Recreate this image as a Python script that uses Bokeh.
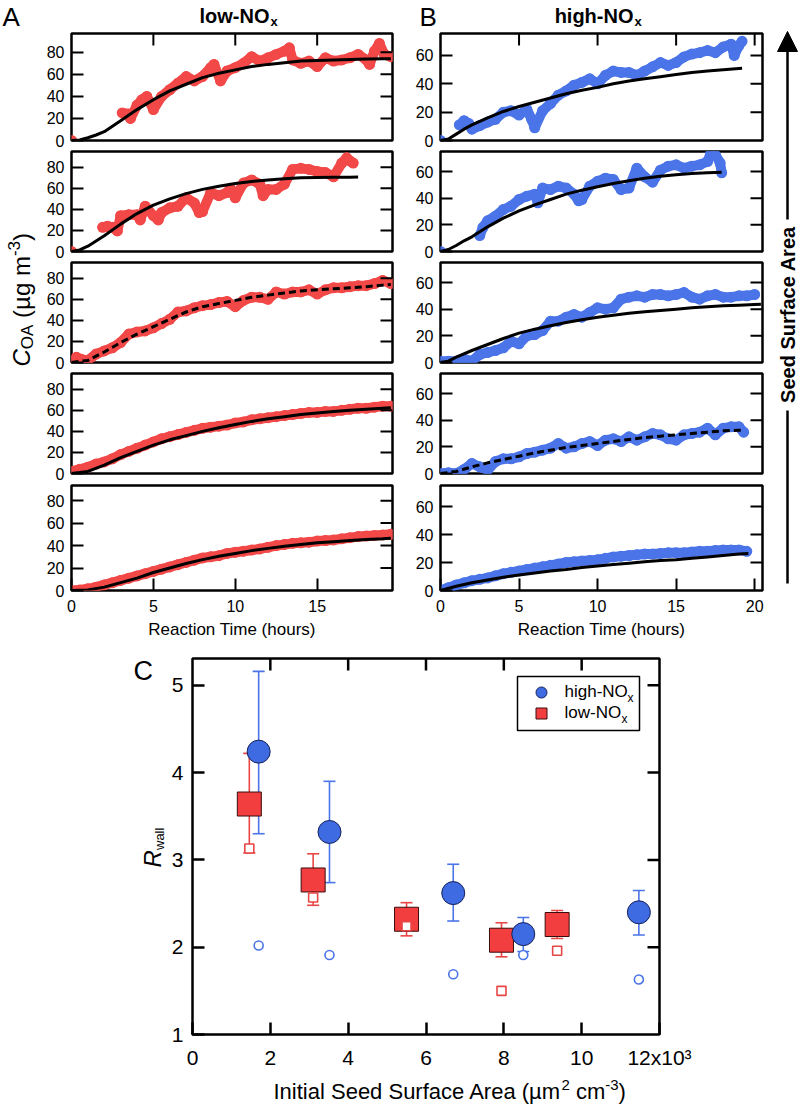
import math
from bokeh.plotting import figure
from bokeh.models import (Range1d, LinearAxis, FixedTicker, Label, Whisker, TeeHead,
                          ColumnDataSource, Arrow, NormalHead)
from bokeh.layouts import row, column
from bokeh.embed import file_html
from bokeh.resources import INLINE

FONT = "Liberation Sans"
RED = "#F24848"
BLUE = "#4A74E8"

# ---------------- Panel A (low-NOx): reaction time (h), C_OA (ug m-3) ----------------
a1_t = [0, 3.1, 3.5, 3.6, 4.0, 4.3, 4.6, 5.0, 5.5, 6.0, 6.5, 7.0, 7.5, 8.0, 8.5, 8.7, 9.1, 9.5, 10.0, 10.5,
        11.0, 11.5, 12.0, 12.5, 13.0, 13.3, 13.5, 14.0, 14.5, 15.0, 15.5, 16.0, 16.5, 17.0, 17.5, 18.0, 18.2,
        18.5, 18.8, 19.1, 19.5]
a1_y = [0, 25, 24, 20, 32, 37, 40, 28, 40, 46, 52, 58, 54, 58, 66, 69, 54, 63, 66, 70,
        76, 72, 75, 78, 81, 84, 73, 70, 72, 67, 75, 72, 73, 75, 78, 73, 69,
        81, 88, 78, 76]
a1_fit_t = [0, 0.5, 1, 1.5, 2, 3, 4, 5, 6, 7, 8, 9, 10, 11, 12, 13, 14, 15, 16, 17, 18, 19, 19.5]
a1_fit_y = [0, 0.5, 2.5, 5, 8, 18, 28, 37, 45, 51, 57, 61, 64, 67, 69, 70.5, 72, 72.5, 73, 73.5, 73.8, 74, 74]

a2_t = [0, 1.9, 2.2, 2.5, 2.8, 3.0, 3.5, 4.0, 4.2, 4.5, 5.0, 5.3, 5.5, 6.0, 6.5, 7.0, 7.5, 7.8, 8.0, 8.5,
        9.0, 9.5, 9.7, 10.0, 10.5, 11.0, 11.5, 11.7, 12.0, 12.5, 13.0, 13.5, 14.0, 14.5, 15.0, 15.5, 16.0,
        16.5, 16.8, 17.0, 17.2]
a2_y = [0, 23, 24, 23, 19.5, 34, 35, 35, 30, 43, 34, 30, 37, 41.5, 43, 51, 46, 37, 38, 56,
        53, 56, 60, 51, 65, 68, 64, 53, 59, 59, 64, 78, 79, 78, 76, 75, 71,
        84, 89, 86, 84]
a2_fit_t = [0, 0.5, 1, 1.5, 2, 3, 4, 5, 6, 7, 8, 9, 10, 11, 12, 13, 14, 15, 16, 17, 17.5]
a2_fit_y = [0, 1.5, 5, 10, 15, 26, 36, 44, 50, 55, 59, 62, 64.5, 66.5, 68, 69, 70, 70.3, 70.5, 70.6, 70.7]

a3_t = [0, 0.3, 0.6, 1.0, 1.5, 2.0, 2.5, 3.0, 3.5, 4.0, 4.5, 5.0, 5.5, 6.0, 6.5, 7.0, 7.5, 8.0, 8.5, 9.0,
        9.5, 10.0, 10.5, 11.0, 11.5, 12.0, 12.5, 13.0, 13.5, 14.0, 14.5, 15.0, 15.5, 16.0, 16.5, 17.0, 17.5,
        18.0, 18.5, 19.0, 19.5]
a3_y = [1, 5, 3, 2, 8, 11, 14, 19, 27, 29, 30, 33, 37, 41, 48, 49, 52, 54, 55, 57,
        58, 53, 59, 62, 62, 60, 67, 65, 67, 67, 69, 65, 69, 71, 71, 72, 73,
        73, 75, 78, 75]
a3_fit_t = [0, 1, 2, 3, 4, 5, 6, 7, 8, 9, 10, 11, 12, 13, 14, 15, 16, 17, 18, 19, 19.5]
a3_fit_y = [0, 2, 10, 19, 27, 34, 41, 48, 53, 56, 59, 62, 64, 66, 68, 69, 70, 71, 72, 73.5, 74]

a4_t = [0, 0.5, 1, 1.5, 2, 2.5, 3, 3.5, 4, 4.5, 5, 5.5, 6, 6.5, 7, 7.5, 8, 8.5, 9, 9.5,
        10, 10.5, 11, 11.5, 12, 12.5, 13, 13.5, 14, 14.5, 15, 15.5, 16, 16.5, 17, 17.5, 18, 18.5, 19, 19.5]
a4_y = [2, 4, 6, 9, 11, 14, 18, 21, 24, 27, 30, 33, 35, 37, 39, 41, 43, 44, 45, 46,
        48, 49, 51, 52, 53, 54, 55, 56, 57, 58, 58, 59, 59, 60, 61, 62, 62, 63, 64, 64]
a4_fit_t = [0, 1, 2, 3, 4, 5, 6, 7, 8, 9, 10, 11, 12, 13, 14, 15, 16, 17, 18, 19, 19.5]
a4_fit_y = [0, 2, 8, 15, 21, 27, 32, 36, 40, 43.5, 46.5, 49.5, 52, 54, 56, 57.5, 59, 60, 61, 62, 62.5]

a5_t = [0, 0.5, 1, 1.5, 2, 2.5, 3, 3.5, 4, 4.5, 5, 5.5, 6, 6.5, 7, 7.5, 8, 8.5, 9, 9.5,
        10, 10.5, 11, 11.5, 12, 12.5, 13, 13.5, 14, 14.5, 15, 15.5, 16, 16.5, 17, 17.5, 18, 18.5, 19, 19.5]
a5_y = [0, 0.5, 1.5, 3, 5, 7, 9, 11, 13, 15, 17, 19, 21, 23, 25, 27, 29, 30, 31, 33,
        34, 35, 36, 37, 38.5, 40, 41, 42, 42.5, 43, 44, 44.5, 45, 46, 47, 48, 48.5, 49, 49.5, 50]
a5_fit_t = [0, 1, 2, 3, 4, 5, 6, 7, 8, 9, 10, 11, 12, 13, 14, 15, 16, 17, 18, 19, 19.5]
a5_fit_y = [0, 0.5, 3, 7, 11, 16, 20, 24, 27.5, 30.5, 33, 35.5, 37.5, 39.5, 41, 42.5, 43.5, 44.5, 45.5, 46, 46.5]

# ---------------- Panel B (high-NOx) ----------------
b1_t = [0, 1.2, 1.5, 1.8, 2.0, 2.5, 3.0, 3.5, 4.0, 4.5, 5.0, 5.5, 5.8, 6.0, 6.5, 7.0, 7.5, 8.0, 8.5, 9.0,
        9.5, 10.0, 10.5, 11.0, 11.5, 12.0, 12.5, 13.0, 13.5, 14.0, 14.5, 15.0, 15.5, 16.0, 16.5, 17.0, 17.5,
        18.0, 18.5, 18.7, 19.0, 19.2]
b1_y = [0, 11, 14, 12, 8, 10.5, 13, 15, 20, 21, 18, 22, 15, 9, 21, 26, 32, 35, 39, 41,
        43.5, 40, 46, 49, 48, 48, 46, 49, 52, 55, 53, 55, 59, 61, 62, 63.5, 62,
        66, 68, 60, 67, 70]
b1_fit_t = [0, 0.5, 1, 1.5, 2, 3, 4, 5, 6, 7, 8, 9, 10, 11, 12, 13, 14, 15, 16, 17, 18, 19.2]
b1_fit_y = [0, 1, 4.5, 8, 11, 16, 20.5, 24, 27, 30, 33, 35.5, 37.5, 40, 42, 43.5, 45, 46.5, 48, 49, 50, 51]

b2_t = [0, 2.5, 2.7, 3.0, 3.5, 4.0, 4.5, 5.0, 5.5, 6.0, 6.2, 6.5, 7.0, 7.5, 8.0, 8.5, 8.8, 9.0, 9.5, 10.0,
        10.5, 11.0, 11.5, 12.0, 12.5, 13.0, 13.5, 14.0, 14.5, 15.0, 15.5, 16.0, 16.5, 17.0, 17.2, 17.5,
        17.8, 17.9]
b2_y = [0, 12, 18, 23, 26.5, 31.5, 34, 39, 41.5, 43, 36.5, 47.6, 46.4, 49, 47.6, 43, 38, 39, 49, 52.6,
        55, 54, 46.4, 47.6, 62.5, 56, 52, 61, 64, 65, 62.5, 64, 65, 67.5, 73.6, 72.5,
        66.5, 59]
b2_fit_t = [0, 0.5, 1, 1.5, 2, 3, 4, 5, 6, 7, 8, 9, 10, 11, 12, 13, 14, 15, 16, 17, 17.9]
b2_fit_y = [0, 1.5, 4.5, 8, 11, 18.5, 25, 30.5, 35, 39, 43, 46, 48.5, 51, 53, 55, 56.5, 57.5, 58.5, 59, 59.5]

b3_t = [0, 0.5, 1, 1.5, 2, 2.5, 3, 3.5, 4, 4.5, 5, 5.5, 6, 6.5, 7, 7.5, 8, 8.5, 9, 9.5,
        10, 10.5, 11, 11.5, 12, 12.5, 13, 13.5, 14, 14.5, 15, 15.5, 16, 16.5, 17, 17.5, 18, 18.5, 19, 19.5, 20]
b3_y = [1, 1, 1, 2.5, 1, 6, 7.5, 9, 11, 16, 14, 20, 21, 24, 31, 31, 34, 36, 34, 37.5,
        41, 40, 41, 47.5, 49, 50, 49, 51, 51, 50, 51, 52.5, 49, 47.5, 50, 51, 49, 49, 50, 50, 51]
b3_fit_t = [0, 0.5, 1, 2, 3, 4, 5, 6, 7, 8, 9, 10, 11, 12, 13, 14, 15, 16, 17, 18, 19, 20, 20.4]
b3_fit_y = [0, 1, 4, 9, 13.5, 18, 22, 25, 27.5, 30, 32, 34, 35.5, 37, 38, 39, 40, 41, 41.8, 42.5, 43, 43.5, 43.7]

b4_t = [0, 0.5, 1, 1.5, 2, 2.5, 3, 3.5, 4, 4.5, 5, 5.5, 6, 6.5, 7, 7.5, 8, 8.5, 9, 9.5,
        10, 10.5, 11, 11.5, 12, 12.5, 13, 13.5, 14, 14.5, 15, 15.5, 16, 16.5, 17, 17.5, 18, 18.5, 19, 19.3]
b4_y = [0, 0.5, 0, 3, 7.5, 5, 2.5, 9, 11, 11, 12.5, 15, 16, 17.5, 19, 22.5, 19, 20, 22.5, 24,
        21, 25, 26, 24, 27.5, 25, 27.5, 30, 29, 26, 25, 29, 30, 31, 34, 29, 34, 35, 35, 31]
b4_fit_t = [0, 1, 2, 3, 4, 5, 6, 7, 8, 9, 10, 11, 12, 13, 14, 15, 16, 17, 18, 19, 19.3]
b4_fit_y = [0, 1.5, 5, 8, 10.5, 13, 15.5, 17.5, 19.5, 21, 22.5, 24, 25.5, 27, 28, 29, 30, 31, 32, 32.5, 32.5]

b5_t = [0, 0.5, 1, 1.5, 2, 2.5, 3, 3.5, 4, 4.5, 5, 5.5, 6, 6.5, 7, 7.5, 8, 8.5, 9, 9.5,
        10, 10.5, 11, 11.5, 12, 12.5, 13, 13.5, 14, 14.5, 15, 15.5, 16, 16.5, 17, 17.5, 18, 18.5, 19, 19.5]
b5_y = [0, 2, 4, 5.5, 7, 8, 9, 10.5, 12, 13, 14, 15, 16, 17, 18, 19, 20, 20.5, 21, 21.5,
        22, 23, 24, 24.5, 25, 25.5, 26, 26, 26.5, 27, 27, 27, 27.5, 28, 28, 28.5, 29, 29, 29, 28]
b5_fit_t = [0, 1, 2, 3, 4, 5, 6, 7, 8, 9, 10, 11, 12, 13, 14, 15, 16, 17, 18, 19, 19.6]
b5_fit_y = [0, 3, 5.5, 7.5, 9.5, 11, 12.5, 14, 15, 16.5, 17.5, 18.5, 19.5, 20.5, 21.5, 22, 23, 24, 25, 26, 26.5]

# ---------------- Panel C: R_wall vs initial seed surface area (x10^3 um2 cm-3) ----------------
hi_x = [1.70, 3.52, 6.70, 8.50, 11.47]
hi_y = [4.24, 3.32, 2.62, 2.15, 2.40]
hi_lo = [3.30, 2.74, 2.30, 1.95, 2.14]
hi_hi = [5.16, 3.90, 2.95, 2.34, 2.65]
hi_open = [2.02, 1.91, 1.69, 1.91, 1.63]
lo_x = [1.46, 3.10, 5.50, 7.94, 9.37]
lo_y = [3.64, 2.77, 2.32, 2.08, 2.26]
lo_lo = [3.08, 2.48, 2.13, 1.89, 2.10]
lo_hi = [4.22, 3.07, 2.51, 2.28, 2.42]
lo_open = [3.13, 2.57, 2.24, 1.50, 1.96]

A_rows = [(a1_t, a1_y, a1_fit_t, a1_fit_y, False), (a2_t, a2_y, a2_fit_t, a2_fit_y, False),
          (a3_t, a3_y, a3_fit_t, a3_fit_y, True), (a4_t, a4_y, a4_fit_t, a4_fit_y, False),
          (a5_t, a5_y, a5_fit_t, a5_fit_y, False)]
B_rows = [(b1_t, b1_y, b1_fit_t, b1_fit_y, False), (b2_t, b2_y, b2_fit_t, b2_fit_y, False),
          (b3_t, b3_y, b3_fit_t, b3_fit_y, False), (b4_t, b4_y, b4_fit_t, b4_fit_y, True),
          (b5_t, b5_y, b5_fit_t, b5_fit_y, False)]

# ---------------- layout geometry (page pixels; content starts at 0,0) ----------------
L_FX = (71, 392)
R_FX = (440, 762)
L_FIG = (40, 400)
R_FIG = (400, 770)
ROW_FY = [(33, 140), (151, 251), (262, 362), (373, 473), (485, 590)]
ROW_GY = [(32, 150), (150, 261), (261, 372), (372, 483), (483, 617)]
L_YR = [(0, 97), (0, 95), (0, 95), (0, 95), (0, 93.5)]
R_YR = [(0, 75.5), (0, 75), (0, 75), (0, 75), (0, 75)]
L_XR = (0, 19.6)
R_XR = (0, 20.5)
UP = math.pi / 2


def P(meta, px, py):
    (fx0, fy0, fx1, fy1), (x0, x1, y0, y1) = meta
    return (x0 + (px - fx0) / (fx1 - fx0) * (x1 - x0),
            y0 + (fy1 - py) / (fy1 - fy0) * (y1 - y0))


def lab(p, meta, px, py, text, size, align="left", baseline="middle", style="normal", angle=0.0):
    x, y = P(meta, px, py)
    p.add_layout(Label(x=x, y=y, text=text, text_font=FONT, text_font_size=f"{size}px",
                       text_font_style=style, text_align=align, text_baseline=baseline,
                       angle=angle, text_color="black"))


def base_fig(xr, yr, fx, fy, gx, gy, outline=True):
    p = figure(x_range=Range1d(*xr), y_range=Range1d(*yr),
               frame_width=fx[1] - fx[0], frame_height=fy[1] - fy[0],
               min_border_left=fx[0] - gx[0], min_border_right=gx[1] - fx[1],
               min_border_top=fy[0] - gy[0], min_border_bottom=gy[1] - fy[1],
               toolbar_location=None, output_backend="svg",
               x_axis_location=None, y_axis_location=None)
    p.grid.visible = False
    p.background_fill_color = "white"
    p.border_fill_color = "white"
    if outline:
        p.outline_line_color = "black"
        p.outline_line_width = 2.5
        p.outline_line_alpha = 1.0
    else:
        p.outline_line_color = None
    return p


def text_fig(x0, x1, y0, y1):
    p = base_fig((0, x1 - x0), (0, y1 - y0), (x0, x1), (y0, y1), (x0, x1), (y0, y1), outline=False)
    return p, ((x0, y0, x1, y1), (0, x1 - x0, 0, y1 - y0))


def axis(ticks, size, standoff, width=2, overrides=None):
    ax = LinearAxis(ticker=FixedTicker(ticks=ticks), major_tick_in=12, major_tick_out=0,
                    minor_tick_line_color=None, axis_line_color=None,
                    major_tick_line_color="black", major_tick_line_width=width,
                    major_label_standoff=standoff, major_label_text_font=FONT,
                    major_label_text_font_size=f"{size}px", major_label_text_color="black")
    if overrides:
        ax.major_label_overrides = overrides
    return ax


def mirror_ticks(p, meta, yticks, xticks, width):
    """Inward ticks on the right edge (yticks) and on the top edge (xticks)."""
    (fx0, fy0, fx1, fy1), (x0, x1, y0, y1) = meta
    dx = 12 * (x1 - x0) / (fx1 - fx0)
    dy = 12 * (y1 - y0) / (fy1 - fy0)
    if yticks:
        p.segment(x0=[x1] * len(yticks), y0=yticks, x1=[x1 - dx] * len(yticks), y1=yticks,
                  line_color="black", line_width=width)
    if xticks:
        p.segment(x0=xticks, y0=[y1] * len(xticks), x1=xticks, y1=[y1 - dy] * len(xticks),
                  line_color="black", line_width=width)


def small(side, i, data):
    t, y, ft, fy_, dashed = data
    if side == "L":
        fx, gx, xr, yr, color = L_FX, L_FIG, L_XR, L_YR[i], RED
        yt = [0, 20, 40, 60, 80]
        xt = [0, 5, 10, 15]
    else:
        fx, gx, xr, yr, color = R_FX, R_FIG, R_XR, R_YR[i], BLUE
        yt = [0, 20, 40, 60]
        xt = [0, 5, 10, 15, 20]
    fy, gy = ROW_FY[i], ROW_GY[i]
    p = base_fig(xr, yr, fx, fy, gx, gy)
    meta = ((fx[0], fy[0], fx[1], fy[1]), (xr[0], xr[1], yr[0], yr[1]))
    p.add_layout(axis(yt, 16, 7), "left")
    if i == 4:
        p.add_layout(axis(xt, 16, 9), "below")
    # data band: consecutive points joined where the sampling is continuous
    x0, y0, x1, y1 = [], [], [], []
    for k in range(len(t) - 1):
        if t[k + 1] - t[k] <= 1.0:
            x0.append(t[k]); y0.append(y[k]); x1.append(t[k + 1]); y1.append(y[k + 1])
    p.segment(x0=x0, y0=y0, x1=x1, y1=y1, line_color=color, line_width=10, line_cap="round")
    p.scatter(x=t, y=y, size=11, marker="circle", fill_color=color, line_color=None)
    p.line(x=ft, y=fy_, line_color="black", line_width=3,
           line_dash="7 4" if dashed else "solid", line_join="round")
    mirror_ticks(p, meta, [v for v in yt if v > 0], [v for v in xt if v > 0] if i == 0 else None, 2)
    return p


rows = [row(small("L", i, A_rows[i]), small("R", i, B_rows[i])) for i in range(5)]

# title band above the rows
tb, tmeta = text_fig(40, 770, 0, 32)
lab(tb, tmeta, 269, 15, "low-NO", 20, align="right", style="bold")
lab(tb, tmeta, 270, 21, "x", 13, style="bold")
lab(tb, tmeta, 633, 15, "high-NO", 20, align="right", style="bold")
lab(tb, tmeta, 634, 21, "x", 13, style="bold")
lab(tb, tmeta, 419, 16, "B", 26)

# x-axis title band below the rows
bb, bmeta = text_fig(40, 770, 617, 640)
lab(bb, bmeta, (L_FX[0] + L_FX[1]) / 2, 629, "Reaction Time (hours)", 17, align="center")
lab(bb, bmeta, (R_FX[0] + R_FX[1]) / 2, 629, "Reaction Time (hours)", 17, align="center")

grid = column(tb, *rows, bb)

# left strip: panel letter A and the shared y-axis label
strip, smeta = text_fig(0, 40, 0, 640)
lab(strip, smeta, 2, 16, "A", 26)
ys = 366
lab(strip, smeta, 21, ys, "C", 24, style="italic", angle=UP)
lab(strip, smeta, 27, ys - 17.3, "OA", 17, angle=UP)
lab(strip, smeta, 21, ys - 48.6, "(\u00b5g m", 24, angle=UP)
lab(strip, smeta, 13, ys - 110.4, "-3", 17, angle=UP)
lab(strip, smeta, 21, ys - 125.5, ")", 24, angle=UP)

# right strip: arrow "Seed Surface Area"
arr, ameta = text_fig(770, 800, 0, 640)
ax0, ay_bot = P(ameta, 787, 583)
_, ay_gap0 = P(ameta, 787, 410)
_, ay_gap1 = P(ameta, 787, 219)
_, ay_tip = P(ameta, 787, 31)
arr.segment(x0=[ax0], y0=[ay_bot], x1=[ax0], y1=[ay_gap0], line_color="black", line_width=2.5)
arr.add_layout(Arrow(end=NormalHead(size=20, fill_color="black", line_color="black", line_width=1),
                     x_start=ax0, y_start=ay_gap1, x_end=ax0, y_end=ay_tip,
                     line_color="black", line_width=2.5))
lab(arr, ameta, 787, 314, "Seed Surface Area", 20, align="center", style="bold", angle=UP)

top = row(strip, grid, arr)

# ---------------- panel C ----------------
CFX, CFY = (191, 658), (658, 1034)
CXR, CYR = (0, 12), (1, 1 + 376 / 87.3)
pc = base_fig(CXR, CYR, CFX, CFY, (168, 800), (640, 1075))
cmeta = ((CFX[0], CFY[0], CFX[1], CFY[1]), (CXR[0], CXR[1], CYR[0], CYR[1]))
pc.add_layout(axis([1, 2, 3, 4, 5], 21, 9, 2.5), "left")
pc.add_layout(axis([0, 2, 4, 6, 8, 10, 12], 21, 11, 2.5, overrides={12: "12x10\u00b3"}), "below")
mirror_ticks(pc, cmeta, [2, 3, 4, 5], [2, 4, 6, 8, 10], 2.5)

src_hi = ColumnDataSource(dict(x=hi_x, y=hi_y, lo=hi_lo, hi=hi_hi, o=hi_open))
src_lo = ColumnDataSource(dict(x=lo_x, y=lo_y, lo=lo_lo, hi=lo_hi, o=lo_open))
CB, CR = "#4A74E8", "#E84646"
for src, c in ((src_lo, CR), (src_hi, CB)):
    pc.add_layout(Whisker(source=src, base="x", upper="hi", lower="lo", dimension="height",
                          line_color=c, line_width=1.6, level="underlay",
                          upper_head=TeeHead(size=12, line_color=c, line_width=1.6),
                          lower_head=TeeHead(size=12, line_color=c, line_width=1.6)))
pc.scatter(x="x", y="y", source=src_lo, marker="square", size=24, fill_color="#F23E3E",
           line_color="#3A0C0C", line_width=1)
pc.scatter(x="x", y="y", source=src_hi, marker="circle", size=23, fill_color="#3F6BE2",
           line_color="#14205A", line_width=1)
pc.scatter(x="x", y="o", source=src_lo, marker="square", size=9, fill_color="white",
           line_color=CR, line_width=1.6)
pc.scatter(x="x", y="o", source=src_hi, marker="circle", size=9, fill_color="white",
           line_color=CB, line_width=1.6)

# legend
lx0, ly0 = P(cmeta, 516, 676)
lx1, ly1 = P(cmeta, 638, 730)
pc.quad(left=[lx0], right=[lx1], top=[ly0], bottom=[ly1], fill_color="white",
        line_color="black", line_width=1.5)
mx, my1 = P(cmeta, 540, 692)
_, my2 = P(cmeta, 540, 713)
pc.scatter(x=[mx], y=[my1], marker="circle", size=11, fill_color="#3F6BE2", line_color="#14205A", line_width=1)
pc.scatter(x=[mx], y=[my2], marker="square", size=11, fill_color="#F23E3E", line_color="#3A0C0C", line_width=1)
lab(pc, cmeta, 563, 691, "high-NO", 17)
lab(pc, cmeta, 626, 697, "x", 12)
lab(pc, cmeta, 563, 712, "low-NO", 17)
lab(pc, cmeta, 620, 718, "x", 12)

# left strip of panel C: letter and y label
cs, csmeta = text_fig(0, 168, 640, 1105)
lab(cs, csmeta, 133, 670, "C", 27)
lab(cs, csmeta, 152, 867, "R", 24, style="italic", angle=UP)
lab(cs, csmeta, 159, 849.5, "wall", 13, angle=UP)

# bottom band of panel C: x title
cb, cbmeta = text_fig(168, 800, 1075, 1105)
tx = 249
lab(cb, cbmeta, tx, 1091, "Initial Seed Surface Area (\u00b5m", 22)
lab(cb, cbmeta, tx + 288, 1084.5, "2", 15)
lab(cb, cbmeta, tx + 302.4, 1091, "cm", 22)
lab(cb, cbmeta, tx + 331.7, 1084.5, "-3", 15)
lab(cb, cbmeta, tx + 345, 1091, ")", 22)

bottom = row(cs, column(pc, cb))
page = column(top, bottom)
open("out.html", "w").write(file_html(page, INLINE, title="Rwall"))
